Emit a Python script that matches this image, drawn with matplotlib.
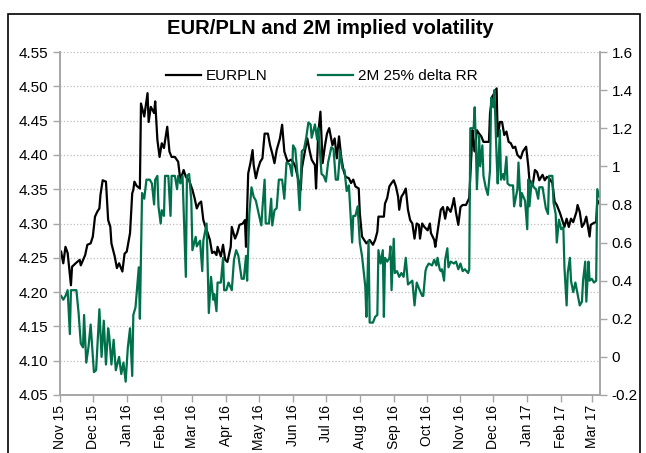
import matplotlib
matplotlib.use("Agg")
import matplotlib.pyplot as plt
import matplotlib.dates as mdates
from matplotlib.patches import Rectangle
from matplotlib.ticker import FuncFormatter
import pandas as pd

plt.rcParams["font.family"] = ["Liberation Sans", "DejaVu Sans"]

start = pd.Timestamp("2015-11-01")
end_day = 493.5

# EUR/PLN spot, days counted from 1 Nov 2015
eurpln_day = [1, 3, 5, 7, 10, 11, 15, 18, 19, 23, 25, 28, 30, 32, 34, 36, 37, 39, 42, 44,
              46, 47, 50, 52, 54, 57, 59, 61, 64, 66, 67, 68, 70, 73, 74, 77, 80, 81, 83, 86,
              87, 89, 91, 93, 95, 98, 100, 102, 105, 108, 110, 113, 115, 118, 121, 123, 125, 127, 129, 131,
              133, 135, 137, 139, 141, 143, 144, 147, 149, 151, 153, 156, 157, 160, 162, 164, 167, 169, 170, 172,
              174, 176, 177, 179, 181, 183, 185, 187, 190, 192, 194, 196, 198, 201, 203, 205, 208, 211, 213, 215,
              218, 220, 221, 224, 226, 228, 230, 233, 234, 236, 238, 240, 242, 244, 246, 249, 251, 253, 255, 257,
              259, 261, 264, 266, 268, 270, 273, 274, 276, 280, 283, 286, 288, 290, 291, 294, 296, 297, 299, 301,
              303, 305, 307, 309, 310, 312, 314, 316, 318, 320, 322, 324, 326, 328, 329, 331, 333, 336, 338, 339,
              342, 343, 345, 347, 348, 350, 352, 354, 357, 359, 360, 362, 364, 366, 368, 371, 374, 375, 376, 377,
              378, 379, 381, 383, 385, 387, 390, 392, 393, 395, 397, 399, 400, 402, 404, 406, 408, 410, 412, 414,
              416, 418, 421, 423, 426, 428, 429, 432, 434, 436, 438, 441, 443, 445, 447, 450, 452, 454, 457, 459,
              461, 463, 465, 467, 469, 472, 473, 475, 477, 479, 481, 484, 485, 488, 490, 491, 493]
eurpln = [4.259, 4.242, 4.266, 4.257, 4.210, 4.237, 4.243, 4.247, 4.239, 4.254, 4.269, 4.271, 4.281, 4.310, 4.317, 4.322, 4.342, 4.363, 4.361, 4.305,
          4.295, 4.271, 4.252, 4.235, 4.242, 4.230, 4.256, 4.259, 4.286, 4.344, 4.349, 4.361, 4.355, 4.351, 4.475, 4.456, 4.490, 4.448, 4.470, 4.461,
          4.478, 4.422, 4.397, 4.417, 4.410, 4.441, 4.405, 4.397, 4.397, 4.390, 4.363, 4.378, 4.368, 4.363, 4.349, 4.337, 4.322, 4.329, 4.332, 4.305,
          4.295, 4.286, 4.276, 4.257, 4.259, 4.254, 4.266, 4.252, 4.269, 4.247, 4.244, 4.266, 4.295, 4.278, 4.286, 4.298, 4.300, 4.305, 4.266, 4.373,
          4.388, 4.407, 4.385, 4.366, 4.380, 4.390, 4.395, 4.431, 4.431, 4.414, 4.402, 4.388, 4.407, 4.424, 4.444, 4.405, 4.390, 4.393, 4.390, 4.383,
          4.363, 4.349, 4.380, 4.407, 4.424, 4.407, 4.393, 4.385, 4.351, 4.431, 4.463, 4.388, 4.412, 4.431, 4.439, 4.414, 4.424, 4.395, 4.427, 4.397,
          4.378, 4.368, 4.366, 4.359, 4.364, 4.354, 4.351, 4.315, 4.281, 4.271, 4.276, 4.269, 4.276, 4.288, 4.310, 4.310, 4.310, 4.329, 4.337, 4.354,
          4.359, 4.363, 4.354, 4.339, 4.320, 4.339, 4.344, 4.351, 4.320, 4.305, 4.300, 4.278, 4.300, 4.298, 4.278, 4.300, 4.295, 4.290, 4.300, 4.286,
          4.276, 4.266, 4.288, 4.310, 4.320, 4.324, 4.307, 4.324, 4.317, 4.329, 4.337, 4.315, 4.298, 4.324, 4.327, 4.327, 4.337, 4.368, 4.402, 4.436,
          4.419, 4.405, 4.436, 4.431, 4.427, 4.419, 4.419, 4.419, 4.461, 4.485, 4.490, 4.497, 4.427, 4.448, 4.448, 4.429, 4.434, 4.419, 4.417, 4.410,
          4.412, 4.400, 4.395, 4.405, 4.412, 4.383, 4.363, 4.356, 4.378, 4.375, 4.363, 4.371, 4.363, 4.368, 4.366, 4.359, 4.332, 4.327, 4.315, 4.305,
          4.295, 4.307, 4.295, 4.307, 4.302, 4.317, 4.327, 4.317, 4.295, 4.300, 4.310, 4.281, 4.298, 4.301, 4.302, 4.334, 4.329]

# 2M 25% delta risk reversal
rr_day = [1, 3, 5, 7, 9, 10, 15, 17, 19, 21, 22, 24, 26, 28, 31, 33, 36, 38, 40, 42,
          44, 45, 47, 49, 51, 54, 56, 58, 60, 62, 64, 66, 67, 69, 72, 73, 75, 77, 79, 82,
          84, 86, 87, 89, 90, 92, 93, 95, 96, 99, 101, 102, 105, 107, 108, 110, 112, 115, 116, 118,
          120, 121, 124, 125, 128, 130, 131, 134, 136, 138, 140, 141, 143, 144, 147, 149, 150, 152, 154, 157,
          159, 161, 163, 166, 168, 170, 171, 173, 175, 177, 179, 182, 184, 185, 187, 188, 191, 193, 194, 196,
          198, 200, 203, 205, 207, 210, 212, 213, 215, 217, 219, 221, 223, 225, 227, 229, 230, 233, 235, 236,
          239, 241, 243, 245, 248, 250, 252, 254, 256, 258, 260, 262, 264, 265, 267, 268, 270, 272, 274, 276,
          279, 280, 282, 283, 286, 288, 290, 291, 293, 295, 296, 297, 299, 301, 302, 303, 305, 306, 308, 310,
          312, 314, 316, 318, 320, 322, 324, 326, 328, 331, 332, 334, 335, 337, 340, 342, 344, 345, 347, 348,
          349, 351, 352, 354, 355, 357, 360, 362, 364, 366, 368, 370, 373, 374, 375, 378, 379, 380, 381, 383,
          384, 386, 387, 389, 391, 393, 394, 396, 397, 399, 400, 402, 403, 405, 406, 408, 409, 411, 414, 415,
          418, 419, 421, 422, 425, 427, 428, 429, 431, 433, 435, 437, 438, 441, 444, 446, 447, 450, 451, 453,
          454, 456, 458, 460, 461, 463, 464, 466, 467, 469, 471, 473, 475, 477, 478, 480, 481, 483, 484, 486,
          488, 490, 491, 493]
rr = [0.32, 0.30, 0.32, 0.35, 0.12, 0.35, 0.35, 0.23, 0.07, 0.05, 0.22, -0.03, 0.05, 0.17, -0.08, -0.07, 0.25, 0.00, 0.19, -0.04,
      0.15, 0.11, -0.04, 0.09, -0.07, 0.00, -0.09, -0.03, -0.13, 0.05, 0.15, -0.10, 0.22, 0.26, 0.47, 0.20, 0.86, 0.83, 0.93, 0.93,
      0.91, 0.80, 0.93, 0.95, 0.79, 0.70, 0.77, 0.74, 0.95, 0.95, 0.74, 0.95, 0.95, 0.88, 0.95, 0.91, 0.95, 0.42, 0.95, 0.96,
      0.82, 0.56, 0.63, 0.58, 0.61, 0.45, 0.61, 0.70, 0.23, 0.42, 0.30, 0.33, 0.24, 0.39, 0.39, 0.52, 0.35, 0.35, 0.39, 0.35,
      0.51, 0.56, 0.53, 0.41, 0.41, 0.53, 0.40, 0.75, 0.89, 0.84, 0.82, 0.74, 0.69, 0.78, 0.93, 0.70, 0.70, 0.83, 0.69, 0.77,
      0.78, 0.93, 0.93, 0.83, 1.02, 1.01, 0.95, 1.11, 1.09, 0.96, 0.77, 1.08, 1.09, 1.15, 1.23, 1.22, 1.15, 1.22, 1.14, 1.20,
      0.96, 0.95, 0.92, 1.02, 1.10, 1.09, 0.93, 0.93, 1.08, 0.99, 0.98, 0.87, 0.90, 0.80, 0.60, 0.74, 0.74, 0.79, 0.60, 0.53,
      0.37, 0.21, 0.61, 0.18, 0.18, 0.21, 0.22, 0.56, 0.49, 0.56, 0.21, 0.52, 0.50, 0.52, 0.58, 0.35, 0.62, 0.44, 0.45, 0.42,
      0.44, 0.42, 0.52, 0.38, 0.39, 0.40, 0.27, 0.39, 0.36, 0.32, 0.32, 0.45, 0.47, 0.49, 0.48, 0.51, 0.48, 0.52, 0.46, 0.45,
      0.46, 0.40, 0.51, 0.57, 0.47, 0.50, 0.49, 0.50, 0.46, 0.49, 0.45, 0.46, 0.44, 0.46, 1.20, 1.20, 1.31, 1.12, 0.88, 1.16,
      1.00, 1.11, 0.95, 0.89, 0.85, 0.98, 1.36, 1.31, 1.40, 1.05, 0.91, 1.19, 0.93, 0.96, 0.93, 1.05, 0.91, 0.90, 0.90, 0.79,
      0.88, 1.02, 0.79, 0.86, 0.82, 0.67, 0.93, 0.79, 0.92, 0.89, 0.88, 0.83, 0.89, 0.89, 0.78, 0.75, 0.95, 0.95, 0.81, 0.75,
      0.60, 0.72, 0.67, 0.68, 0.47, 0.27, 0.44, 0.52, 0.40, 0.34, 0.39, 0.33, 0.27, 0.29, 0.40, 0.50, 0.29, 0.50, 0.40, 0.41,
      0.39, 0.40, 0.88, 0.84]

eurpln_dates = start + pd.to_timedelta(eurpln_day, unit="D")
rr_dates = start + pd.to_timedelta(rr_day, unit="D")

spine_col = "#a6a6a6"
green = "#00704a"

fig = plt.figure(figsize=(6.46, 4.53), dpi=100)
ax = fig.add_axes([60 / 646, 1 - 395 / 453, 540 / 646, 343 / 453])
ax2 = ax.twinx()

ax.plot(eurpln_dates, eurpln, color="black", lw=1.6, label="EURPLN")
ax2.plot(rr_dates, rr, color=green, lw=1.6, label="2M 25% delta RR")

ax.set_xlim(start, start + pd.Timedelta(days=end_day))
ax.set_ylim(4.05, 4.55)
ax.set_yticks([4.05 + 0.05 * i for i in range(11)])
ax.yaxis.set_major_formatter(FuncFormatter(lambda v, p: f"{v:.2f}"))
ax2.set_ylim(-0.2, 1.6)
ax2.set_yticks([-0.2 + 0.2 * i for i in range(10)])
ax2.yaxis.set_major_formatter(FuncFormatter(lambda v, p: f"{round(v, 1):g}"))

ax.xaxis.set_major_locator(mdates.MonthLocator())
ax.xaxis.set_major_formatter(mdates.DateFormatter("%b %y"))

ax.grid(axis="y", ls=":", color="#bfbfbf", lw=0.9)
ax.set_axisbelow(True)
for a in (ax, ax2):
    a.spines["top"].set_visible(False)
    for s in ("left", "right", "bottom"):
        a.spines[s].set_color(spine_col)
        a.spines[s].set_linewidth(1.2)
    a.tick_params(colors=spine_col, labelcolor="black", labelsize=11, length=5, width=1)
ax.tick_params(axis="x", labelsize=10, pad=2)
plt.setp(ax.get_xticklabels(), rotation=90)

h1, l1 = ax.get_legend_handles_labels()
h2, l2 = ax2.get_legend_handles_labels()
ax2.legend(h1 + h2, l1 + l2, loc="upper center", bbox_to_anchor=(0.485, 0.99), ncol=2,
           frameon=False, fontsize=11, handlelength=2.3, handletextpad=0.3, columnspacing=3.3)

fig.text(330 / 646, 1 - 28 / 453, "EUR/PLN and 2M implied volatility", ha="center", va="center",
         fontsize=14.5, fontweight="bold")
fig.patches.append(Rectangle((8 / 646, -0.05), 632 / 646, 1.05 - 14 / 453, transform=fig.transFigure,
                             fill=False, ec="black", lw=1.2))

fig.savefig("out.png", dpi=100)
